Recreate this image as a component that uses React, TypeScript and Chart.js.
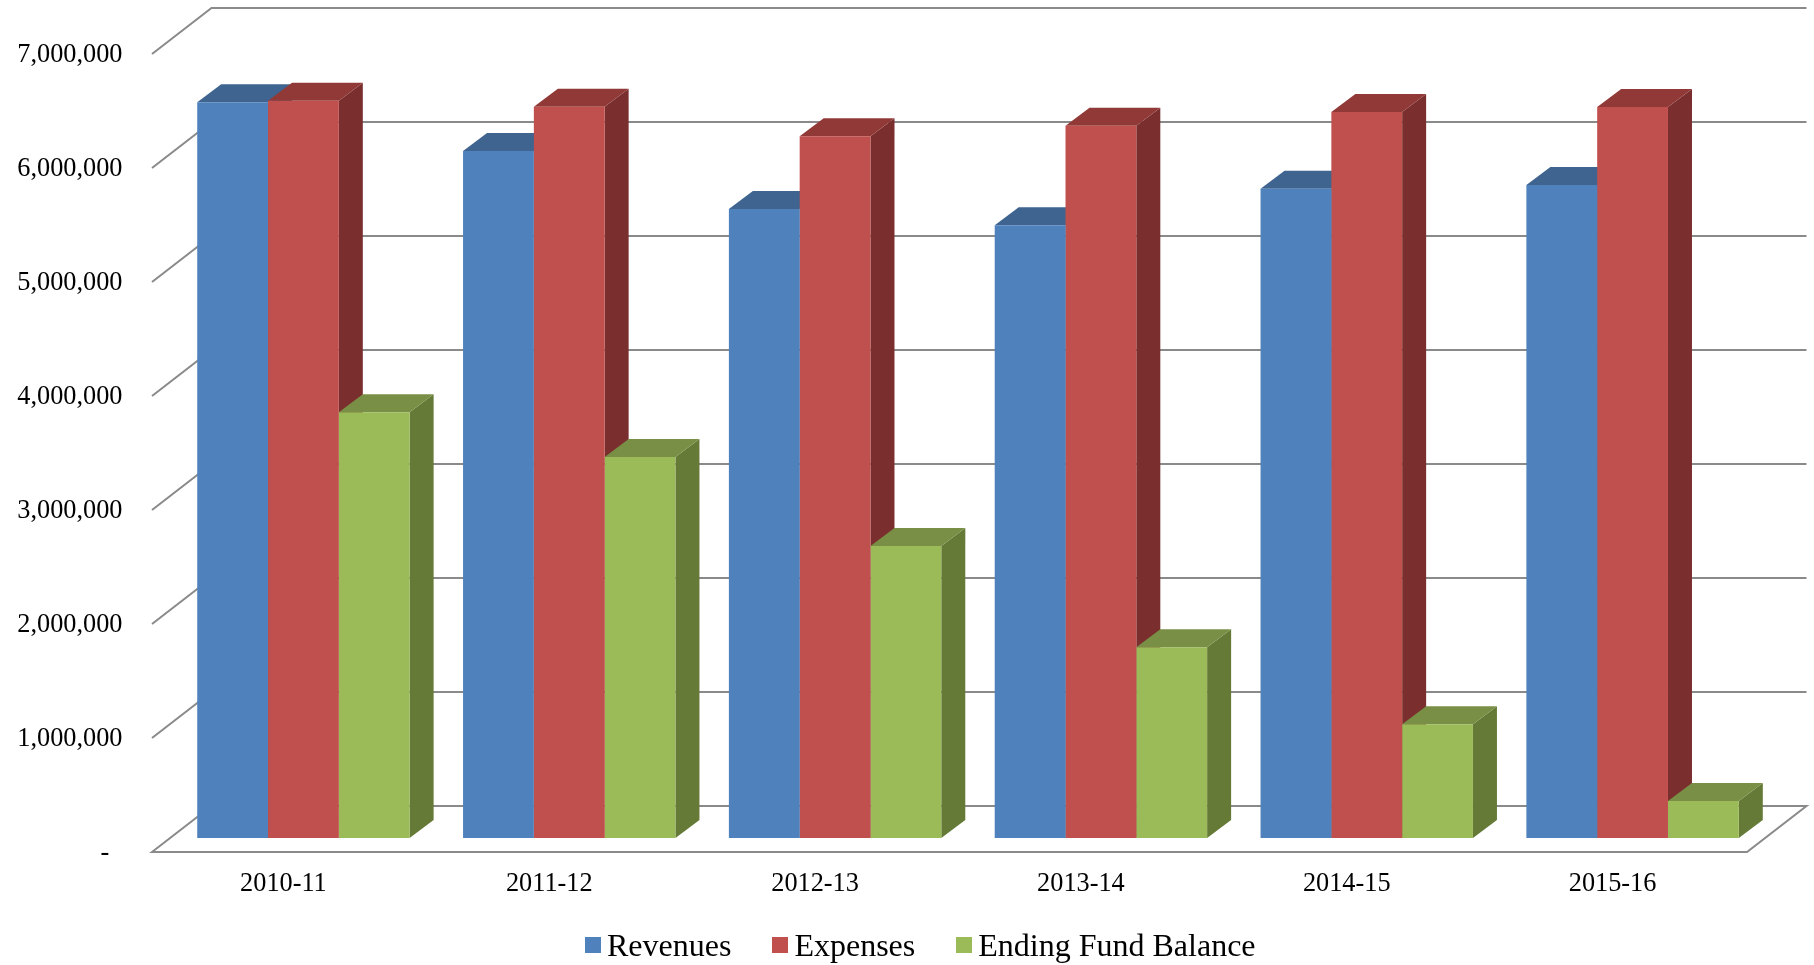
import React, { useEffect, useRef } from "react";
import { Chart, registerables } from "chart.js";

Chart.register(...registerables);

const categories = ["2010-11", "2011-12", "2012-13", "2013-14", "2014-15", "2015-16"];
const revenues = [6454000, 6026000, 5518000, 5375000, 5696000, 5728000];
const expenses = [6468000, 6415000, 6155000, 6248000, 6368000, 6412000];
const endingFundBalance = [3734000, 3342000, 2561000, 1673000, 997000, 325000];

const FONT = '"Liberation Serif", "Times New Roman", serif';
const GRID = "#8a8a8a";
const BLUE = "#4f81bd";
const RED = "#c0504d";
const GREEN = "#9bbb59";

const FRONT_DX = -18.5;
const FRONT_DY = 14;
const BACK_DX = 41;
const BACK_DY = -32;
const BAR_DX = 24;
const BAR_DY = 18;

const faces: Record<string, { top: string; side: string }> = {
  Revenues: { top: "#3e648f", side: "#33537a" },
  Expenses: { top: "#903937", side: "#7a2f2e" },
  "Ending Fund Balance": { top: "#788f45", side: "#647a36" },
};

function poly(ctx: CanvasRenderingContext2D, pts: number[][], fill: string) {
  ctx.beginPath();
  pts.forEach(([x, y], i) => (i ? ctx.lineTo(x, y) : ctx.moveTo(x, y)));
  ctx.closePath();
  ctx.fillStyle = fill;
  ctx.fill();
}

const walls = {
  id: "walls",
  beforeDatasetsDraw(chart: any) {
    const { ctx, chartArea, scales } = chart;
    const { left, right } = chartArea;
    ctx.save();
    ctx.strokeStyle = GRID;
    ctx.lineWidth = 2;
    ctx.lineJoin = "miter";
    scales.y.ticks.forEach((t: any) => {
      const y = scales.y.getPixelForValue(t.value);
      ctx.beginPath();
      ctx.moveTo(left + FRONT_DX, y + FRONT_DY);
      ctx.lineTo(left + BACK_DX, y + BACK_DY);
      ctx.lineTo(right + BACK_DX, y + BACK_DY);
      if (t.value === 0) {
        ctx.lineTo(right + FRONT_DX, y + FRONT_DY);
        ctx.closePath();
      }
      ctx.stroke();
    });
    // Side and top faces of each 3D bar, left series first, under every front face.
    chart.data.datasets.forEach((ds: any, index: number) => {
      const face = faces[ds.label];
      chart.getDatasetMeta(index).data.forEach((b: any) => {
        const l = b.x - b.width / 2;
        const r = b.x + b.width / 2;
        poly(ctx, [[r, b.y], [r + BAR_DX, b.y - BAR_DY], [r + BAR_DX, b.base - BAR_DY], [r, b.base]], face.side);
        poly(ctx, [[l, b.y], [l + BAR_DX, b.y - BAR_DY], [r + BAR_DX, b.y - BAR_DY], [r, b.y]], face.top);
      });
    });
    ctx.restore();
  },
};

const legendItems = [
  { label: "Revenues", color: BLUE },
  { label: "Expenses", color: RED },
  { label: "Ending Fund Balance", color: GREEN },
];

export default function App() {
  const ref = useRef<HTMLCanvasElement>(null);
  useEffect(() => {
    const chart = new Chart(ref.current!, {
      type: "bar",
      data: {
        labels: categories,
        datasets: [
          { label: "Revenues", data: revenues, backgroundColor: BLUE },
          { label: "Expenses", data: expenses, backgroundColor: RED },
          { label: "Ending Fund Balance", data: endingFundBalance, backgroundColor: GREEN },
        ],
      },
      options: {
        animation: false,
        responsive: false,
        layout: { autoPadding: false, padding: { top: 40, right: 48.5, left: 0, bottom: 0 } },
        datasets: { bar: { categoryPercentage: 0.799, barPercentage: 1, borderWidth: 0 } },
        plugins: { legend: { display: false }, tooltip: { enabled: false } },
        scales: {
          x: {
            grid: { display: false, drawTicks: false },
            border: { display: false },
            afterFit: (s: any) => { s.height = 127; },
            ticks: {
              font: { family: FONT, size: 26.3 },
              color: "#000",
              padding: 30,
              labelOffset: -20,
              maxRotation: 0,
              autoSkip: false,
            },
          },
          y: {
            min: 0,
            max: 7000000,
            grid: { display: false, drawTicks: false },
            border: { display: false },
            afterFit: (s: any) => {
              s.width = 170.5;
              s.paddingTop = 0;
              s.paddingBottom = 0;
            },
            ticks: {
              stepSize: 1000000,
              font: { family: FONT, size: 26.3 },
              color: "#000",
              padding: 48,
              labelOffset: 15.5,
              callback: (v: any) => (v === 0 ? "-\u00a0\u00a0" : Number(v).toLocaleString("en-US")),
            },
          },
        },
      },
      plugins: [walls],
    } as any);
    return () => chart.destroy();
  }, []);
  return (
    <div style={{ position: "fixed", inset: 0, background: "#fff", overflow: "hidden" }}>
      <canvas ref={ref} width={1814} height={965} style={{ display: "block" }} />
      <div
        style={{
          position: "absolute",
          left: 585,
          top: 926,
          display: "flex",
          gap: 41,
          fontFamily: FONT,
          fontSize: 32,
          lineHeight: "38px",
          color: "#000",
          whiteSpace: "nowrap",
        }}
      >
        {legendItems.map((it) => (
          <div key={it.label} style={{ display: "flex", alignItems: "center" }}>
            <span style={{ width: 16, height: 16, background: it.color, marginRight: 6, display: "inline-block" }} />
            <span>{it.label}</span>
          </div>
        ))}
      </div>
    </div>
  );
}
